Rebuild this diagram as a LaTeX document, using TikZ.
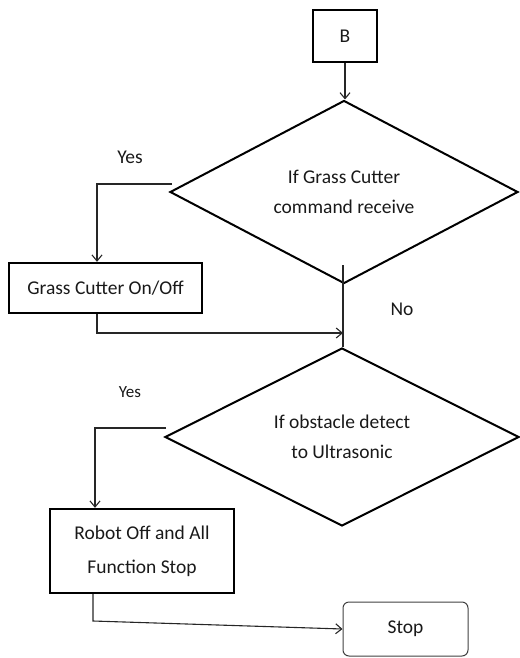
\documentclass[tikz,border=0pt]{standalone}
\usepackage{fontspec}
\setmainfont{Carlito}
\usetikzlibrary{shapes.geometric,arrows.meta}
\begin{document}
\begin{tikzpicture}[x=1pt,y=-1pt,
  font=\fontsize{19.5}{30}\selectfont,
  txt/.style={text=black!90},
  thickbox/.style={draw,line width=2.4pt,rectangle,inner sep=0pt,txt},
  dec/.style={draw,line width=2pt,diamond,aspect=1.9,inner sep=0pt,align=center,txt},
  term/.style={draw=black!75,line width=1pt,rounded corners=6pt,rectangle,inner sep=0pt,txt},
  conn/.style={draw=black!85,line width=1.1pt,-{Straight Barb[length=6pt,width=10pt]}},
  plain/.style={draw=black!85,line width=1.1pt},
  lbl/.style={txt,inner sep=0pt}]
\useasboundingbox (0,0) rectangle (519,658);
\node[thickbox,minimum width=64pt,minimum height=52pt] (B) at (345,36) {B};
\node[dec,minimum width=348pt,minimum height=183pt] (d1) at (344,192) {If Grass Cutter\\command receive};
\node[thickbox,minimum width=193pt,minimum height=50pt] (gc) at (105.5,288) {Grass Cutter On/Off};
\node[dec,minimum width=354pt,minimum height=178pt] (d2) at (342,437) {If obstacle detect\\to Ultrasonic};
\node[thickbox,minimum width=184pt,minimum height=84pt,align=center,font=\fontsize{19.5}{34}\selectfont] (rb) at (142,551) {Robot Off and All\\Function Stop};
\node[term,minimum width=125pt,minimum height=54pt] (st) at (405.5,629) {Stop};
\node[lbl] (y1) at (130,157) {Yes};
\node[lbl,font=\fontsize{17}{20}\selectfont] (y2) at (130,392) {Yes};
\node[lbl] (no) at (402,309) {No};
\coordinate (y1s) at (172,184);
\coordinate (c1) at (97,184);
\coordinate (c2) at (97,333);
\coordinate (m1) at (343,333);
\coordinate (v1) at (343,265);
\coordinate (y2s) at (166,428);
\coordinate (c3) at (95,428);
\coordinate (c4) at (93,621);
\path[conn] (B.south) -- (B.south |- d1.north);
\path[conn] (y1s) -- (c1) -- (c1 |- gc.north);
\path[conn] (c2 |- gc.south) -- (c2) -- (m1);
\path[plain] (v1) -- (v1 |- d2.north);
\path[conn] (y2s) -- (c3) -- (c3 |- rb.north);
\path[conn] (c4 |- rb.south) -- (c4) -- (st.west);
\end{tikzpicture}
\end{document}
